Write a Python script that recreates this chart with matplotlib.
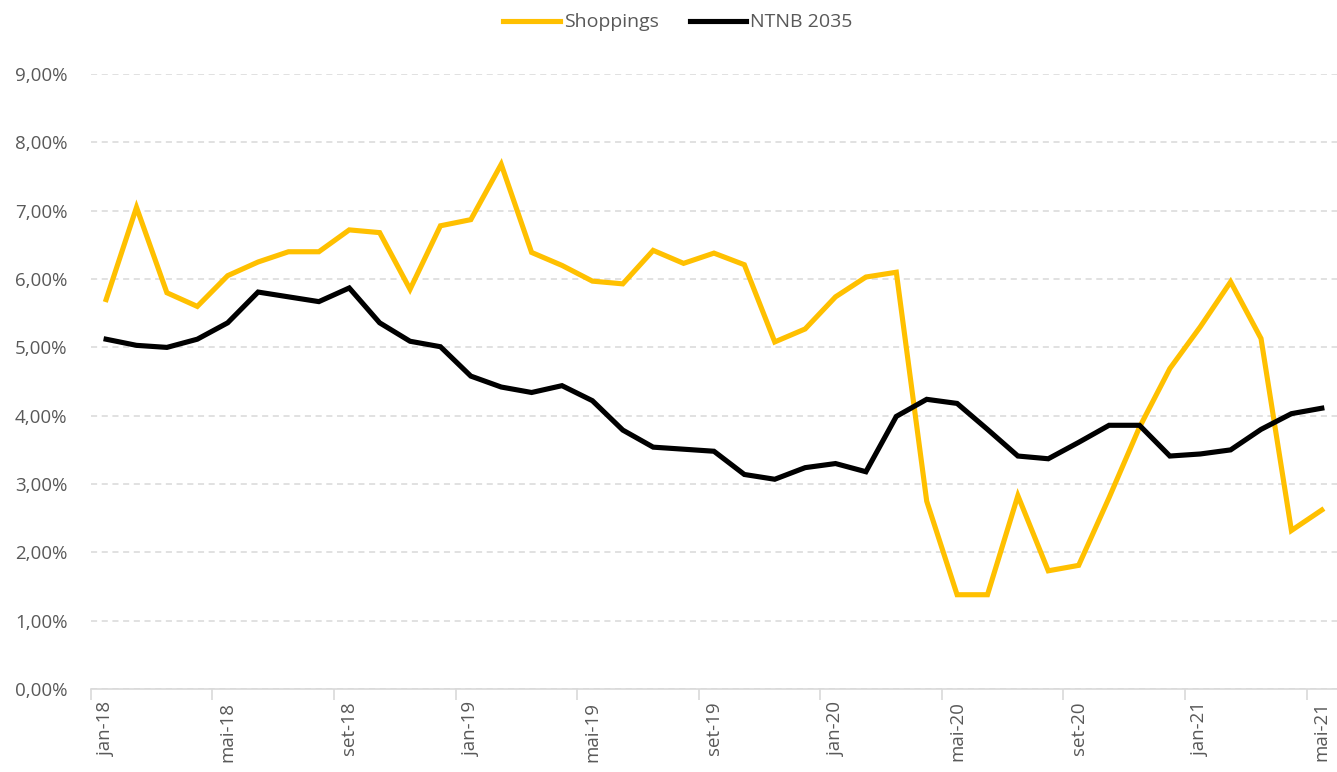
import numpy as np
import matplotlib
matplotlib.use("Agg")
import matplotlib.pyplot as plt
from matplotlib.ticker import FuncFormatter, FixedLocator

# monthly data jan-18 .. mai-21
months = ['jan', 'fev', 'mar', 'abr', 'mai', 'jun', 'jul', 'ago', 'set', 'out', 'nov', 'dez']
labels = [f"{months[i % 12]}-{18 + i // 12}" for i in range(41)]

shoppings = [5.70, 7.05, 5.80, 5.60, 6.05, 6.25, 6.40, 6.40, 6.72, 6.68,
             5.85, 6.78, 6.87, 7.68, 6.39, 6.20, 5.97, 5.93, 6.42, 6.23,
             6.38, 6.21, 5.08, 5.27, 5.74, 6.03, 6.10, 2.75, 1.38, 1.38,
             2.83, 1.73, 1.81, 2.80, 3.83, 4.69, 5.30, 5.96, 5.13, 2.32,
             2.62]
ntnb2035 = [5.12, 5.03, 5.00, 5.12, 5.36, 5.81, 5.74, 5.67, 5.87, 5.36,
            5.09, 5.01, 4.58, 4.42, 4.34, 4.44, 4.22, 3.79, 3.54, 3.51,
            3.48, 3.14, 3.07, 3.24, 3.30, 3.18, 3.99, 4.24, 4.18, 3.80,
            3.41, 3.37, 3.61, 3.86, 3.86, 3.41, 3.44, 3.50, 3.80, 4.03,
            4.11]

plt.rcParams['font.family'] = ['Open Sans', 'DejaVu Sans']

fig = plt.figure(figsize=(13.37, 7.72), dpi=100)
ax = fig.add_axes([0.068, 0.1075, 0.932, 0.7965])

x = np.arange(len(labels))
ax.plot(x, shoppings, color='#FFC000', lw=3.7, label='Shoppings', solid_joinstyle='miter')
ax.plot(x, ntnb2035, color='#000000', lw=3.7, label='NTNB 2035', solid_joinstyle='miter')

ax.set_xlim(-0.5, len(labels) - 0.5)
ax.set_ylim(0, 9)
ax.set_yticks(np.arange(0, 10, 1))
ax.yaxis.set_major_formatter(FuncFormatter(lambda v, p: f"{v:.2f}%".replace('.', ',')))
ax.grid(axis='y', color='#D9D9D9', ls=(0, (4, 3)), lw=1.1)
ax.set_axisbelow(True)

# labels on every 4th month, tick marks on category boundaries
ax.xaxis.set_major_locator(FixedLocator(x[::4]))
ax.set_xticklabels(labels[::4], rotation=90)
ax.xaxis.set_minor_locator(FixedLocator(x[::4] - 0.5))
ax.tick_params(axis='x', which='major', length=0, pad=9, labelsize=13.5, labelcolor='#595959')
ax.tick_params(axis='x', which='minor', length=8, color='#D9D9D9', width=1.2)
ax.tick_params(axis='y', length=0, pad=17, labelsize=13.5, labelcolor='#595959')

for s in ['top', 'right', 'left']:
    ax.spines[s].set_visible(False)
ax.spines['bottom'].set_color('#D9D9D9')
ax.spines['bottom'].set_linewidth(1.2)

fig.legend(loc='center', bbox_to_anchor=(0.507, 0.971), ncol=2, frameon=False,
           fontsize=14, labelcolor='#595959', handlelength=2.9, handletextpad=0.2,
           columnspacing=1.6)

fig.savefig('out.png', dpi=100)
